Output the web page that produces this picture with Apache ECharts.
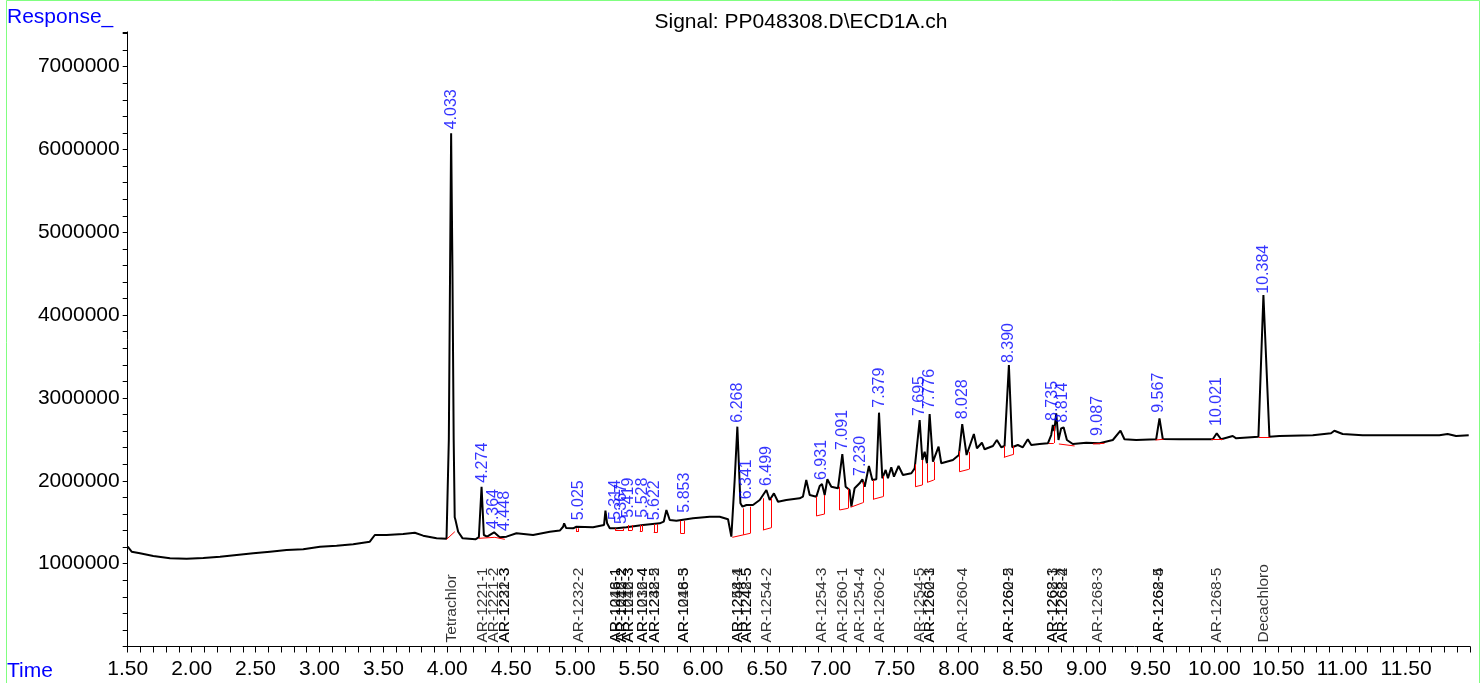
<!DOCTYPE html>
<html>
<head>
<meta charset="utf-8">
<script src="https://cdn.jsdelivr.net/npm/echarts@6/dist/echarts.min.js"></script>
<style>
html,body{margin:0;padding:0;background:#fff;}
#chart{width:1482px;height:683px;}
</style>
</head>
<body>
<div id="chart"></div>
<script>
// ---- trace (retention time in min, response) ----
const traceTimes = [1.50,1.531,1.596,1.70,1.831,1.961,2.091,2.222,2.352,2.482,2.613,2.743,2.873,3.004,3.134,3.264,3.394,3.433,3.525,3.655,3.746,3.811,3.916,3.994,
4.012,4.022,4.030,4.040,4.050,4.058,4.064,4.085,4.12,4.22,4.247,4.268,4.286,4.311,4.366,4.41,4.463,4.541,4.671,4.802,4.88,4.906,4.914,4.93,4.984,5.01,5.14,5.226,5.237,5.25,5.271,5.323,5.401,5.531,5.662,5.693,5.714,5.74,5.792,5.922,6.053,6.131,6.196,6.222,6.248,6.269,6.293,6.309,6.34,6.391,6.444,6.496,6.522,6.555,6.587,6.652,6.756,6.782,6.808,6.835,6.887,6.913,6.931,6.952,6.973,7.004,7.056,7.09,7.116,7.147,7.161,7.186,7.225,7.247,7.265,7.298,7.325,7.356,7.377,7.403,7.429,7.447,7.473,7.494,7.53,7.564,7.63,7.656,7.695,7.716,7.734,7.752,7.773,7.799,7.843,7.864,7.955,8.002,8.028,8.062,8.119,8.143,8.182,8.203,8.268,8.299,8.333,8.359,8.393,8.419,8.463,8.502,8.541,8.568,8.633,8.698,8.724,8.737,8.748,8.763,8.781,8.802,8.821,8.847,8.893,8.998,9.102,9.206,9.266,9.297,9.389,9.545,9.571,9.597,9.728,9.988,10.019,10.053,10.144,10.171,10.345,10.384,10.431,10.509,10.77,10.913,10.939,11.004,11.16,11.422,11.76,11.825,11.891,11.99];
const traceValues = [1205000,1145000,1125000,1093000,1065000,1060000,1068000,1084000,1105000,1125000,1145000,1165000,1173000,1205000,1217000,1234000,1265000,1346000,1346000,1358000,1374000,1338000,1306000,1300000,
2500000,4600000,6196000,4600000,2500000,1560000,1527000,1386000,1306000,1294000,1320000,1929000,1346000,1326000,1379000,1318000,1326000,1367000,1346000,1386000,1400000,1446000,1487000,1430000,1427000,1446000,1439000,1467000,1640000,1487000,1427000,1427000,1439000,1467000,1487000,1507000,1648000,1527000,1519000,1548000,1567000,1567000,1536000,1326000,2010000,2654000,1729000,1688000,1708000,1708000,1769000,1889000,1769000,1849000,1748000,1769000,1789000,1809000,2010000,1829000,1809000,1938000,1962000,1829000,2019000,1929000,1910000,2324000,1929000,1889000,1688000,1910000,1970000,2019000,1929000,2179000,2010000,2019000,2823000,2031000,2131000,2031000,2163000,2050000,2179000,2070000,2091000,2151000,2734000,2252000,2352000,2212000,2807000,2231000,2412000,2212000,2252000,2312000,2686000,2312000,2565000,2393000,2460000,2381000,2421000,2493000,2405000,2421000,3398000,2405000,2433000,2405000,2502000,2433000,2445000,2453000,2553000,2674000,2600000,2815000,2493000,2634000,2646000,2493000,2445000,2460000,2453000,2493000,2605000,2502000,2493000,2502000,2755000,2505000,2502000,2502000,2574000,2502000,2541000,2513000,2533000,4244000,2533000,2541000,2550000,2574000,2605000,2565000,2550000,2550000,2550000,2565000,2541000,2550000];

// ---- integration baselines (red): [t1, y1, t2, y2] ----
const baselineSegments = [
[3.994,1294000,4.059,1386000],
[4.247,1306000,4.372,1318000],[4.372,1318000,4.45,1294000],
[5.008,1427000,5.008,1386000],[5.008,1386000,5.028,1386000],[5.028,1386000,5.028,1427000],
[5.315,1427000,5.315,1398000],[5.315,1398000,5.38,1398000],[5.38,1398000,5.38,1427000],
[5.414,1467000,5.414,1406000],[5.414,1406000,5.448,1406000],[5.448,1406000,5.448,1467000],
[5.506,1467000,5.506,1394000],[5.506,1394000,5.527,1394000],[5.527,1394000,5.527,1467000],
[5.615,1479000,5.615,1374000],[5.615,1374000,5.641,1374000],[5.641,1374000,5.641,1479000],
[5.824,1519000,5.824,1367000],[5.824,1367000,5.857,1367000],[5.857,1367000,5.857,1519000],
[6.23,1318000,6.371,1367000],[6.313,1349000,6.313,1668000],[6.371,1367000,6.371,1688000],
[6.469,1790000,6.469,1406000],[6.469,1406000,6.535,1434000],[6.535,1434000,6.535,1790000],
[6.887,1809000,6.887,1576000],[6.887,1576000,6.952,1600000],[6.952,1600000,6.952,1829000],
[7.069,1929000,7.069,1648000],[7.069,1648000,7.134,1668000],[7.134,1668000,7.134,1905000],
[7.155,1681000,7.251,1736000],[7.251,1736000,7.251,1990000],
[7.33,2010000,7.33,1777000],[7.33,1777000,7.408,1809000],[7.408,1809000,7.408,2060000],
[7.661,2200000,7.661,1929000],[7.661,1929000,7.716,1950000],[7.716,1950000,7.716,2252000],
[7.755,2212000,7.755,1982000],[7.755,1982000,7.806,2010000],[7.806,2010000,7.806,2231000],
[8.007,2360000,8.007,2110000],[8.007,2110000,8.08,2139000],[8.08,2139000,8.08,2350000],
[8.354,2421000,8.354,2284000],[8.354,2284000,8.43,2320000],[8.43,2320000,8.43,2420000],
[8.706,2457000,8.744,2457000],[8.744,2457000,8.744,2662000],
[8.784,2445000,8.907,2421000],
[9.05,2445000,9.141,2453000],
[9.54,2493000,9.603,2502000],
[9.975,2502000,10.066,2502000],
[10.348,2526000,10.437,2526000]
];

// ---- peak retention time labels (blue) ----
const peakTimes = [4.033,4.274,4.364,4.448,5.025,5.314,5.367,5.419,5.528,5.622,5.853,6.268,6.341,6.499,6.931,7.091,7.230,7.379,7.695,7.776,8.028,8.390,8.735,8.814,9.087,9.567,10.021,10.384];
const peakLevels = [6196000,1929000,1370000,1346000,1475000,1479000,1431000,1507000,1507000,1475000,1567000,2654000,1729000,1889000,1962000,2324000,2010000,2835000,2734000,2819000,2695000,3374000,2674000,2654000,2493000,2774000,2614000,4211000];

// ---- compound names (black, at bottom) ----
const compoundTimes = [4.033,4.274,4.364,4.448,4.448,5.025,5.314,5.314,5.367,5.367,5.419,5.419,5.528,5.528,5.622,5.622,5.853,5.853,6.268,6.268,6.341,6.341,6.499,6.931,7.091,7.230,7.379,7.695,7.776,7.776,8.028,8.390,8.390,8.735,8.735,8.814,8.814,9.087,9.567,9.567,10.021,10.384];
const compoundNames = ["Tetrachlor","AR-1221-1","AR-1221-2","AR-1221-3","AR-1232-3","AR-1232-2","AR-1016-1","AR-1248-1","AR-1016-2","AR-1242-2","AR-1016-3","AR-1242-3","AR-1016-4","AR-1232-4","AR-1232-5","AR-1248-2","AR-1016-5","AR-1248-3","AR-1248-4","AR-1254-1","AR-1242-5","AR-1248-5","AR-1254-2","AR-1254-3","AR-1260-1","AR-1254-4","AR-1260-2","AR-1254-5","AR-1260-3","AR-1262-1","AR-1260-4","AR-1260-5","AR-1262-2","AR-1262-3","AR-1268-1","AR-1262-4","AR-1268-2","AR-1268-3","AR-1262-5","AR-1268-4","AR-1268-5","Decachloro"];

const titleText = "Signal: PP048308.D\\ECD1A.ch";
const FONT = "'Liberation Sans', Arial, sans-serif";

const chart = echarts.init(document.getElementById('chart'), null, {renderer: 'canvas'});

const option = {
  animation: false,
  backgroundColor: '#ffffff',
  title: {
    text: titleText,
    left: 796, top: 7, textAlign: 'center',
    textStyle: {fontFamily: FONT, fontSize: 21, fontWeight: 'normal', color: '#000'}
  },
  graphic: [
    {type: 'rect', shape: {x: 6.5, y: 0.5, width: 1473, height: 700}, style: {fill: 'none', stroke: '#80ff80', lineWidth: 1}, silent: true, z: 0},
    {type: 'text', style: {x: 7, y: 17.5, text: 'Response_', font: '21px ' + FONT, fill: '#0000ff', verticalAlign: 'middle'}, silent: true},
    {type: 'text', style: {x: 7, y: 671.7, text: 'Time', font: '21px ' + FONT, fill: '#0000ff', verticalAlign: 'middle'}, silent: true}
  ],
  grid: {left: 127.7, right: 12, top: 31.9, bottom: 36.5, containLabel: false},
  xAxis: {
    type: 'value', min: 1.5, max: 12, interval: 0.1,
    axisLine: {show: true, lineStyle: {color: '#000', width: 1}},
    axisTick: {show: true, length: 6, lineStyle: {color: '#000'}},
    splitLine: {show: false},
    axisLabel: {
      margin: 12, fontFamily: FONT, fontSize: 21, color: '#000',
      formatter: function (v) {
        if (v > 11.95) return '';
        const d = v * 2;
        return Math.abs(d - Math.round(d)) < 1e-6 ? v.toFixed(2) : '';
      }
    }
  },
  yAxis: {
    type: 'value', min: 0, max: 7420000, interval: 200000,
    axisLine: {show: true, lineStyle: {color: '#000', width: 1}},
    axisTick: {show: true, length: 5, lineStyle: {color: '#000'}},
    splitLine: {show: false},
    axisLabel: {
      margin: 8, fontFamily: FONT, fontSize: 21, color: '#000',
      formatter: function (v) {
        if (v <= 0 || v > 7100000) return '';
        return (v % 1000000 === 0) ? String(v) : '';
      }
    }
  },
  series: [
    {
      type: 'line', name: 'trace', showSymbol: false, symbol: 'none',
      data: traceTimes.map((t, i) => [t, traceValues[i]]),
      lineStyle: {color: '#000', width: 2}, z: 2, silent: true
    },
    {
      type: 'lines', coordinateSystem: 'cartesian2d', name: 'baselines',
      data: baselineSegments.map(s => ({coords: [[s[0], s[1]], [s[2], s[3]]]})),
      lineStyle: {color: '#ff0000', width: 1, opacity: 1}, z: 3, silent: true
    },
    {
      type: 'scatter', name: 'peaks', symbolSize: 0, clip: false, silent: true,
      data: peakTimes.map((t, i) => [t, peakLevels[i]]),
      label: {
        show: true, position: 'top', distance: 4, rotate: 90, align: 'left', verticalAlign: 'middle',
        fontFamily: FONT, fontSize: 16, color: '#0000ff',
        formatter: p => p.value[0].toFixed(3)
      },
      z: 4
    },
    {
      type: 'scatter', name: 'compounds', symbolSize: 0, clip: false, silent: true,
      data: compoundTimes.map((t, i) => ({value: [t, 0], name: compoundNames[i]})),
      label: {
        show: true, position: 'top', distance: 4, rotate: 90, align: 'left', verticalAlign: 'middle',
        fontFamily: FONT, fontSize: 15.5, color: '#000',
        formatter: p => p.name
      },
      z: 4
    }
  ]
};
chart.setOption(option);
</script>
</body>
</html>
